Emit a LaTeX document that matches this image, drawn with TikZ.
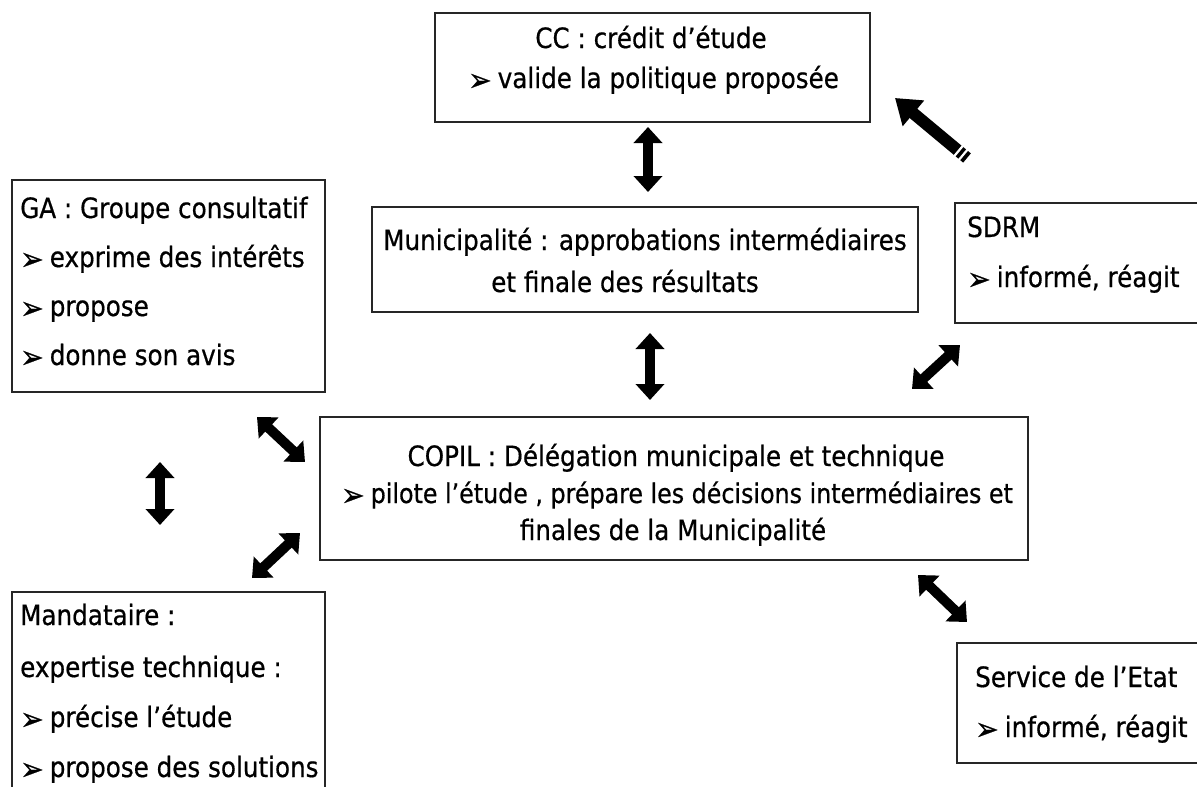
\documentclass[tikz,border=0pt]{standalone}
\usepackage{fontspec}
\setmainfont{DejaVu Sans}[FakeStretch=0.88,FakeBold=0.6]
\usetikzlibrary{arrows.meta,calc}
\newcommand\diafont{\fontsize{28}{34}\selectfont}
\newcommand\mybul{{\fontsize{32}{32}\selectfont\raisebox{-3pt}{➢}}\hspace{6pt}}
\tikzset{
  box/.style={draw=black!85, line width=1.3pt, rectangle, inner sep=0pt},
  txt/.style={inner sep=0pt, font=\diafont},
  dbl/.style={line width=10pt, {Triangle[length=16pt,width=28pt]}-{Triangle[length=16pt,width=28pt]}},
  dbld/.style={line width=10pt, {Triangle[length=16pt,width=28pt]}-{Triangle[length=16pt,width=28pt]}},
  sgl/.style={line width=12pt, -{Triangle[length=24pt,width=32pt]}},
}
\begin{document}
\begin{tikzpicture}[x=1pt,y=-1pt]
\useasboundingbox (0,0) rectangle (1197,787);
% boxes
\node[box, minimum width=435pt, minimum height=109pt] (cc) at (652.5,67.5) {};
\node[box, minimum width=546pt, minimum height=105pt] (mun) at (645,259.5) {};
\node[box, minimum width=313pt, minimum height=212pt] (ga) at (168.5,286) {};
\node[box, minimum width=250pt, minimum height=120pt] (sdrm) at (1080,263) {};
\node[box, minimum width=708pt, minimum height=143pt] (copil) at (674,488.5) {};
\node[box, minimum width=313pt, minimum height=208pt] (mand) at (168.5,696) {};
\node[box, minimum width=248pt, minimum height=120pt] (svc) at (1081,703) {};
% texts
\node[txt, anchor=base] (cc1) at (651,48) {CC : crédit d’étude};
\node[txt, anchor=base] (cc2) at (653.5,88) {\mybul valide la politique proposée};
\node[txt, anchor=base] (mun1) at (645,250) {Municipalité : approbations intermédiaires};
\node[txt, anchor=base] (mun2) at (625,292) {et finale des résultats};
\node[txt, anchor=base west] (ga1) at (20,218) {GA : Groupe consultatif};
\node[txt, anchor=base west] (ga2) at (20,267) {\mybul exprime des intérêts};
\node[txt, anchor=base west] (ga3) at (20,316) {\mybul propose};
\node[txt, anchor=base west] (ga4) at (20,365) {\mybul donne son avis};
\node[txt, anchor=base west] (sd1) at (967,237) {SDRM};
\node[txt, anchor=base west] (sd2) at (967,287) {\mybul informé, réagit};
\node[txt, anchor=base] (co1) at (676,466) {COPIL : Délégation municipale et technique};
\node[txt, anchor=base, font=\fontsize{27}{32}\selectfont] (co2) at (677,503) {\mybul pilote l’étude , prépare les décisions intermédiaires et};
\node[txt, anchor=base] (co3) at (673,540) {finales de la Municipalité};
\node[txt, anchor=base west] (ma1) at (20,625) {Mandataire :};
\node[txt, anchor=base west] (ma2) at (20,677) {expertise technique :};
\node[txt, anchor=base west] (ma3) at (20,727) {\mybul précise l’étude};
\node[txt, anchor=base west] (ma4) at (20,777) {\mybul propose des solutions};
\node[txt, anchor=base west] (sv1) at (975,687) {Service de l’Etat};
\node[txt, anchor=base west] (sv2) at (975,737) {\mybul informé, réagit};
% arrow ends
\coordinate (a1s) at (648,127); \coordinate (a1e) at (648,192);
\coordinate (a2s) at (650,333); \coordinate (a2e) at (650,400);
\coordinate (a3s) at (912,389); \coordinate (a3e) at (960,345);
\coordinate (a4s) at (257,417); \coordinate (a4e) at (305,462);
\coordinate (a5s) at (160,462); \coordinate (a5e) at (160,525);
\coordinate (a6s) at (252,578); \coordinate (a6e) at (300,533);
\coordinate (a7s) at (918,575); \coordinate (a7e) at (967,622);
\coordinate (a8s) at (967,158); \coordinate (a8e) at (895,98);
% arrows
\draw[dbl] (a1s) -- (a1e);
\draw[dbl] (a2s) -- (a2e);
\draw[dbl] (a5s) -- (a5e);
\draw[dbld] (a3s) -- (a3e);
\draw[dbld] (a4s) -- (a4e);
\draw[dbld] (a6s) -- (a6e);
\draw[dbld] (a7s) -- (a7e);
\draw[sgl] (a8s) -- (a8e);
\coordinate (st1) at ($(a8s)!5pt!(a8e)$);
\coordinate (st2) at ($(a8s)!11pt!(a8e)$);
\draw[white, line width=2.2pt] ($(st1)!8pt!90:(a8e)$) -- ($(st1)!8pt!-90:(a8e)$);
\draw[white, line width=2.2pt] ($(st2)!8pt!90:(a8e)$) -- ($(st2)!8pt!-90:(a8e)$);
\end{tikzpicture}
\end{document}
